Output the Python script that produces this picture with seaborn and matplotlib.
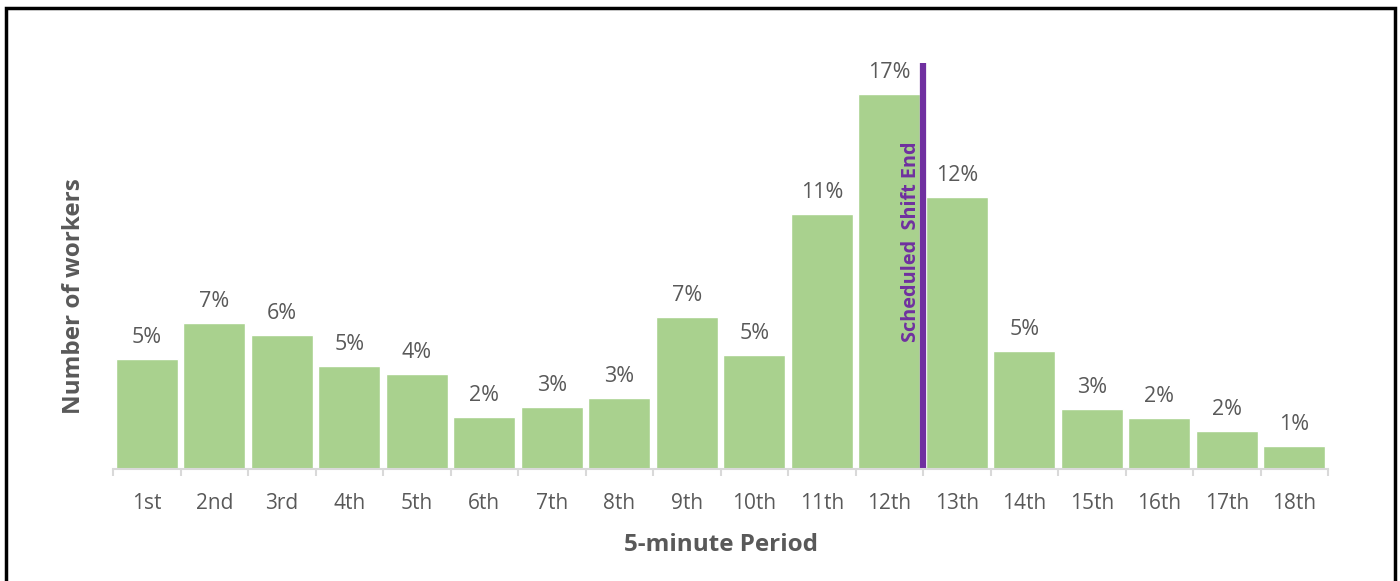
import matplotlib
matplotlib.use("Agg")
import matplotlib.pyplot as plt
import seaborn as sns
import pandas as pd
from matplotlib.patches import Rectangle

sns.set_style("white")
plt.rcParams['font.family'] = ['Open Sans', 'DejaVu Sans']

PERIODS = ["1st", "2nd", "3rd", "4th", "5th", "6th", "7th", "8th", "9th",
           "10th", "11th", "12th", "13th", "14th", "15th", "16th", "17th", "18th"]
# share of workers leaving in each 5-minute period (%)
SHARES = [4.93, 6.54, 6.01, 4.62, 4.26, 2.33, 2.78, 3.18, 6.81,
          5.11, 11.43, 16.81, 12.19, 5.29, 2.69, 2.29, 1.70, 1.03]
SHIFT_END_AFTER = "12th"

GREEN = "#A9D18E"
PURPLE = "#7030A0"
GRAY = "#595959"

df = pd.DataFrame({"Period": PERIODS, "Share": SHARES})

fig = plt.figure(figsize=(14, 5.81), dpi=100)
ax = fig.add_axes([113 / 1400, 112 / 581, 1215 / 1400, 406 / 581])

sns.barplot(data=df, x="Period", y="Share", color=GREEN, saturation=1,
            width=0.92, ax=ax)

labels = [f"{round(v)}%" for v in SHARES]
ax.bar_label(ax.containers[0], labels=labels, padding=8, fontsize=15.5, color=GRAY)

ax.set_xlim(-0.5, len(PERIODS) - 0.5)
ax.set_ylim(0, 18.2)

# shift end marker
x_end = PERIODS.index(SHIFT_END_AFTER) + 0.5
ax.axvline(x_end, ymin=0, ymax=1, color=PURPLE, lw=4.5, clip_on=False,
           solid_capstyle="butt")
ax.annotate("Scheduled  Shift End", xy=(x_end, 5.7), xytext=(-1.5, 0),
            textcoords="offset points", rotation=90, ha="right", va="bottom",
            color=PURPLE, fontsize=14.3, fontweight="bold")

# axes styling
for s in ["top", "right", "left"]:
    ax.spines[s].set_visible(False)
ax.spines["bottom"].set_color("#D9D9D9")
ax.spines["bottom"].set_linewidth(1.5)
ax.set_yticks([])
ax.set_xticks(range(len(PERIODS)))
ax.set_xticklabels(PERIODS, fontsize=15, color=GRAY)
ax.tick_params(axis="x", which="major", length=0, pad=17)
ax.set_xticks([i - 0.5 for i in range(len(PERIODS) + 1)], minor=True)
ax.tick_params(axis="x", which="minor", length=5, width=1.5, color="#D9D9D9",
               direction="out", bottom=True)

ax.set_xlabel("5-minute Period", fontsize=17.5, fontweight="bold", color=GRAY, labelpad=14)
ax.set_ylabel("Number of workers", fontsize=17.5, fontweight="bold", color=GRAY)
ax.yaxis.set_label_coords(-0.022, 0.426)

# outer frame
fig.patches.append(Rectangle((6 / 1400, -0.05), 1389 / 1400, (573 / 581) + 0.05,
                             transform=fig.transFigure, fill=False,
                             edgecolor="black", linewidth=2.5, clip_on=False))

fig.savefig("out.png", dpi=100)
